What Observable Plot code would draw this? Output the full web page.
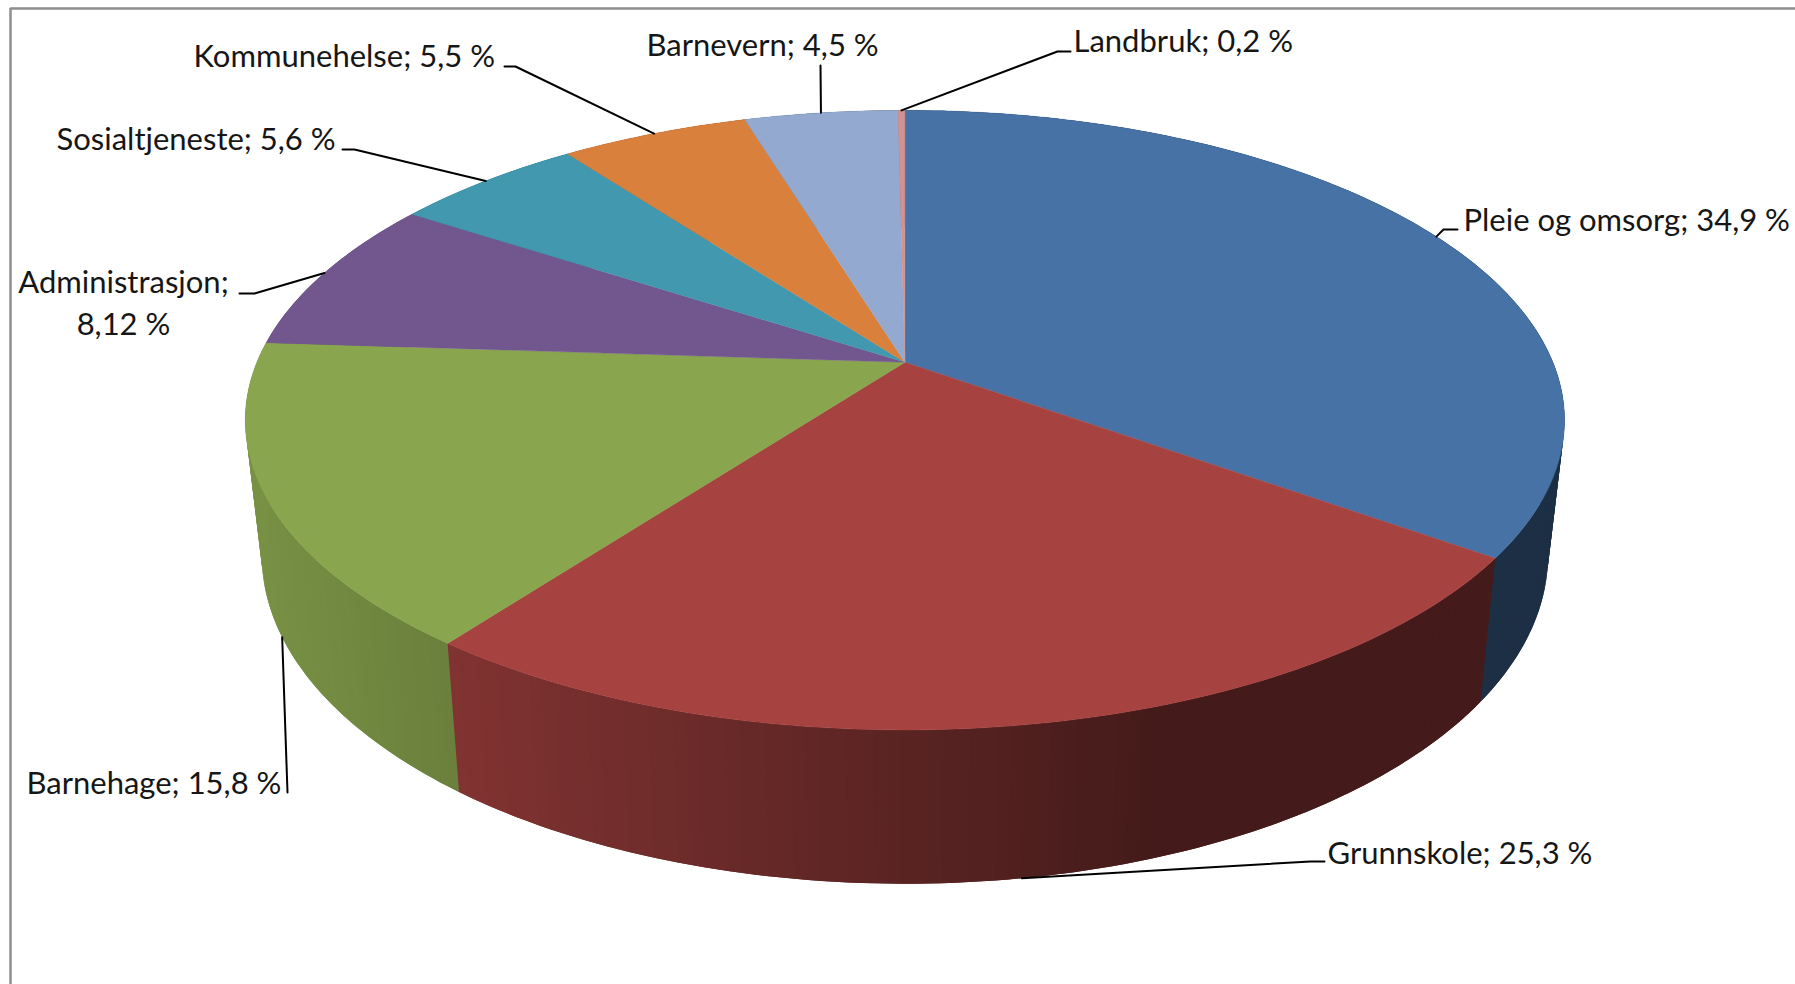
<!DOCTYPE html>
<html>
<head>
<meta charset="utf-8">
<script src="https://cdn.jsdelivr.net/npm/d3@7"></script>
<script src="https://cdn.jsdelivr.net/npm/@observablehq/plot@0.6"></script>
<style>
  html, body { margin: 0; padding: 0; background: #fff; }
  svg { display: block; }
</style>
</head>
<body>
<div id="chart"></div>
<script>
// ---- chart data
const categories = ["Pleie og omsorg", "Grunnskole", "Barnehage", "Administrasjon", "Sosialtjeneste", "Kommunehelse", "Barnevern", "Landbruk"];
const shares = [34.9, 25.3, 15.8, 8.12, 5.6, 5.5, 4.5, 0.2];
const shareLabels = ["34,9 %", "25,3 %", "15,8 %", "8,12 %", "5,6 %", "5,5 %", "4,5 %", "0,2 %"];
const sliceColors = ["#4672a6", "#a64240", "#89a54e", "#72578f", "#4198af", "#d9813c", "#93a9cf", "#d19392"];

// ---- label layout (pixels): text position, elbow points of the leader, and the disc it touches
const labelX = [1463, 1327, 26, 123, 56, 193, 646, 1073];
const labelCenterY = [217, 850, 780, 300, 136, 53, 42, 38];
const labelAnchor = ["start", "start", "start", "middle", "start", "start", "start", "start"];
const labelBreak = [false, false, false, true, false, false, false, false];
const leaderElbows = [
  [[1443, 229], [1457, 229]],
  [[1310, 861], [1324, 861]],
  [[287, 792]],
  [[254, 293], [239, 293]],
  [[354, 149], [342, 149]],
  [[515, 66], [504, 66]],
  [[820, 65]],
  [[1057, 51], [1070, 51]]
];
const leaderOnBase = [false, true, true, false, false, false, false, false];

// ---- perspective of the disc
const cx = 904.4, cy = 361.8, A = 648, B = 299, p = 0.1867;
const baseScaleX = 0.975, baseScaleY = 1.06, baseDrop = 131.7;

function rim(t, base) {
  const u = Math.sin(t), v = -Math.cos(t), w = 1 - p * v;
  const dx = A * u / w, dy = B * v / w;
  return base ? [cx + baseScaleX * dx, cy + baseDrop + baseScaleY * dy] : [cx + dx, cy + dy];
}
const total = d3.sum(shares);
const starts = d3.cumsum([0, ...shares]).map(c => (c / total) * 2 * Math.PI);
const arcStep = Math.PI / 180;

function arcAngles(a0, a1) {
  const n = Math.max(1, Math.ceil((a1 - a0) / arcStep));
  return d3.range(n + 1).map(i => a0 + (a1 - a0) * i / n);
}
function shade(color, px) {
  const f = Math.max(0.41, Math.min(0.9, 0.87 - (px / 1.1448 - 230) * 0.00059));
  const c = d3.rgb(color);
  return d3.rgb(c.r * f, c.g * f, c.b * f).formatHex();
}

const wallPoints = [];
const topPoints = [];
categories.forEach((name, i) => {
  const angles = arcAngles(starts[i], starts[i + 1]);
  d3.pairs(angles).forEach(([a, b], j) => {
    // each strip runs on under the next one, so no seams show between them
    const c = b + arcStep;
    const t0 = rim(a), t1 = rim(b), t2 = rim(c), b2 = rim(c, true), b1 = rim(b, true), b0 = rim(a, true);
    const color = shade(sliceColors[i], (t0[0] + t1[0]) / 2);
    [t0, t1, t2, b2, b1, b0, t0].forEach(q => wallPoints.push({id: `${i}-${j}`, x: q[0], y: q[1], color}));
  });
  const outline = [[cx, cy], ...angles.map(a => rim(a)), [cx, cy]];
  outline.forEach(q => topPoints.push({id: name, x: q[0], y: q[1], color: sliceColors[i]}));
});

const leaderPoints = [];
categories.forEach((name, i) => {
  const mid = (starts[i] + starts[i + 1]) / 2;
  [rim(mid, leaderOnBase[i]), ...leaderElbows[i]].forEach(q => leaderPoints.push({id: name, x: q[0], y: q[1]}));
});

const labels = categories.map((name, i) => ({
  text: name + ";" + (labelBreak[i] ? "\n" : " ") + shareLabels[i],
  x: labelX[i], y: labelCenterY[i], anchor: labelAnchor[i]
}));

const W = 1795, H = 984;
const frameColor = "#8e8e8e";
const chart = Plot.plot({
  width: W, height: H,
  margin: 0,
  x: {domain: [0, W], range: [0, W], axis: null},
  y: {domain: [0, H], range: [0, H], axis: null},
  color: {type: "identity"},
  style: {background: "#fff", fontFamily: "Lato, 'Open Sans', sans-serif"},
  marks: [
    Plot.ruleX([10], {y1: 8, y2: H, stroke: frameColor, strokeWidth: 2.5}),
    Plot.ruleY([8], {x1: 10, x2: W, stroke: frameColor, strokeWidth: 2.5}),
    Plot.line(wallPoints, {x: "x", y: "y", z: "id", fill: "color", stroke: "none"}),
    Plot.line(topPoints, {x: "x", y: "y", z: "id", fill: "color", stroke: "color", strokeWidth: 0.4}),
    Plot.line(leaderPoints, {x: "x", y: "y", z: "id", stroke: "#000", strokeWidth: 2}),
    ...["start", "middle"].map(anchor =>
      Plot.text(labels.filter(d => d.anchor === anchor), {
        x: "x", y: "y", text: "text", textAnchor: anchor,
        fontSize: 31, fill: "#161616", lineHeight: 1.35
      }))
  ]
});
document.getElementById("chart").append(chart);
</script>
</body>
</html>
